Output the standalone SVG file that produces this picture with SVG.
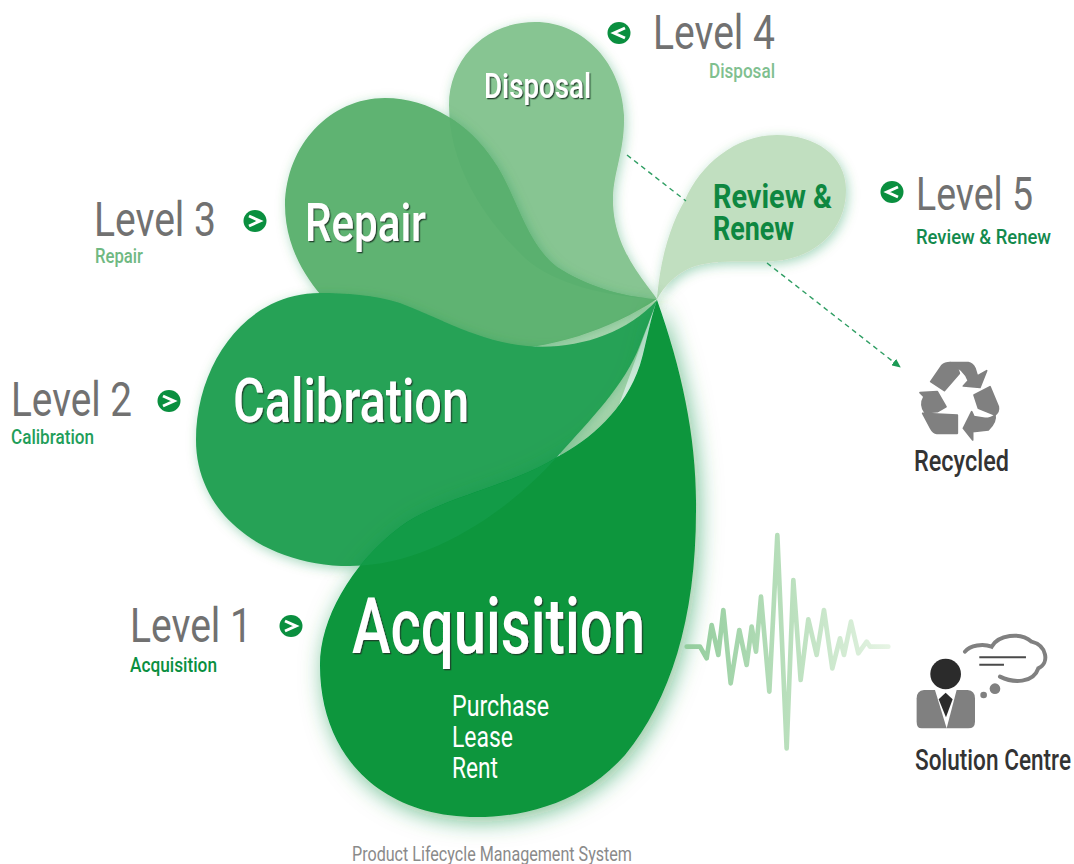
<svg xmlns="http://www.w3.org/2000/svg" width="1074" height="864" viewBox="0 0 1074 864">
<style>
text{font-family:"Roboto","Liberation Sans",sans-serif}
.lv{font-size:48px;fill:#717171}
.sub{font-size:21px;font-weight:500}
.pt{fill:#fff;font-weight:500;filter:url(#ts)}
.li{fill:#fff;font-size:30px}
.blt{fill:#0a8f3f}
.chev{fill:none;stroke:#fff;stroke-width:3;stroke-linejoin:miter}
.dash{fill:none;stroke:#2f9e63;stroke-width:1.4;stroke-dasharray:5 4}
.gr{fill:#808080}
.dk{fill:#2b2b2b}
.lab{fill:#333;font-size:30px;font-weight:500}
</style>
<defs>
<filter id="glow" x="-20%" y="-20%" width="140%" height="140%"><feDropShadow dx="2" dy="3" stdDeviation="6" flood-color="#0a8f3f" flood-opacity=".35"/></filter>
<filter id="glow2" x="-20%" y="-20%" width="140%" height="140%"><feDropShadow dx="3" dy="5" stdDeviation="11" flood-color="#0a8f3f" flood-opacity=".55"/></filter>
<filter id="ts" x="-5%" y="-10%" width="110%" height="120%"><feDropShadow dx="1.3" dy="1.3" stdDeviation=".3" flood-color="#1c3a28" flood-opacity=".9"/></filter>
<marker id="ah" markerWidth="9" markerHeight="8" refX="8" refY="4" orient="auto" markerUnits="userSpaceOnUse"><path d="M0,0L9,4L0,8Z" fill="#1d9a55"/></marker>
<linearGradient id="wave2" gradientUnits="userSpaceOnUse" x1="50" y1="0" x2="655" y2="0"><stop offset="0" stop-color="#93cd9d"/><stop offset=".5" stop-color="#b9dfbc"/><stop offset="1" stop-color="#e6f4e4"/></linearGradient>
<path id="pDisposal" d="M657,299C640,275 612,245 613,197C614,170 625,150 624,115C622,65 585,22 535,22C485,22 449,60 449,105C449,170 490,225 525,258C555,285 610,297 657,299Z"/>
<path id="pRepair" d="M657,299C620,297 585,285 557,267C525,243 515,190 493,160C470,125 430,98 385,98C330,98 286,145 285,205C285,250 310,290 345,318C385,345 440,350 490,350C550,350 610,330 657,299Z"/>
<path id="pCal" d="M657,300C625,335 575,350 527,346C480,342 440,318 400,303C375,295 345,293 320,293C245,293 196,365 196,440C196,515 265,566 350,566C430,566 510,510 557,457C590,420 625,385 640,345C645,332 650,320 657,300Z"/>
<path id="pAcq" d="M657,300C682,370 697,440 696,510C696,620 670,700 625,755C585,800 530,817 477,817C380,817 320,755 320,665C320,620 350,565 400,527C440,497 510,487 557,457C590,440 625,410 640,365C645,350 650,320 657,300Z"/>
<clipPath id="cAcq"><use href="#pAcq"/></clipPath>
<clipPath id="cRep"><use href="#pRepair"/></clipPath>
</defs>
<rect width="1074" height="864" fill="#fff"/>

<g id="node-review">
<path d="M657,299C660,260 670,225 685,200C700,165 735,135 777,135C815,135 846,155 846,190C846,230 815,258 775,261C745,263 715,258 690,268C675,275 665,285 657,299Z" fill="#c1dfc0" filter="url(#glow)"/>
<text x="713" y="208" font-size="34" font-weight="700" fill="#0e8740" textLength="119" lengthAdjust="spacingAndGlyphs">Review &amp;</text>
<text x="713" y="240" font-size="34" font-weight="700" fill="#0e8740" textLength="81" lengthAdjust="spacingAndGlyphs">Renew</text>
</g>
<g id="node-disposal">
<use href="#pDisposal" fill="#87c592" filter="url(#glow)"/>
</g>
<path id="gap" d="M657,300L535,345L560,400L560,457L610,430Z" fill="#c0dfbd"/>
<g id="node-repair">
<use href="#pRepair" fill="#5eb372" filter="url(#glow)"/>
<use href="#pDisposal" fill="#5ab06f" clip-path="url(#cRep)"/>
<text class="pt" x="305" y="241" font-size="54" textLength="121" lengthAdjust="spacingAndGlyphs">Repair</text>
</g>
<g id="node-calibration">
<use href="#pCal" fill="#27a257" filter="url(#glow)"/>
<text class="pt" x="233" y="422" font-size="62" textLength="236" lengthAdjust="spacingAndGlyphs">Calibration</text>
</g>
<g id="node-acquisition">
<use href="#pAcq" fill="#07963c" filter="url(#glow2)"/>
<use href="#pCal" fill="#129b47" clip-path="url(#cAcq)"/>
<text class="pt" x="352" y="653" font-size="78" textLength="293" lengthAdjust="spacingAndGlyphs">Acquisition</text>
<text class="li" x="452" y="716" textLength="97" lengthAdjust="spacingAndGlyphs">Purchase</text>
<text class="li" x="452" y="747" textLength="61" lengthAdjust="spacingAndGlyphs">Lease</text>
<text class="li" x="452" y="778" textLength="46" lengthAdjust="spacingAndGlyphs">Rent</text>
</g>
<g id="node-disposal-label">
<text class="pt" x="484" y="98" font-size="35" textLength="107" lengthAdjust="spacingAndGlyphs">Disposal</text>
</g>

<g id="connectors">
<path class="dash" d="M627,155L686,201"/>
<path class="dash" d="M767,263L900,367" marker-end="url(#ah)"/>
</g>

<g id="level-1">
<text class="lv" x="130" y="642" textLength="122" lengthAdjust="spacingAndGlyphs">Level 1</text>
<text class="sub" x="130" y="672" fill="#0a8f3f" textLength="87" lengthAdjust="spacingAndGlyphs">Acquisition</text>
<ellipse class="blt" cx="291" cy="626" rx="11.5" ry="11"/><path class="chev" d="M285,621L296,626L285,631"/>
</g>
<g id="level-2">
<text class="lv" x="11" y="416" textLength="121" lengthAdjust="spacingAndGlyphs">Level 2</text>
<text class="sub" x="11" y="444" fill="#1f9e5a" textLength="83" lengthAdjust="spacingAndGlyphs">Calibration</text>
<ellipse class="blt" cx="169" cy="401" rx="11.5" ry="11"/><path class="chev" d="M163,396L174,401L163,406"/>
</g>
<g id="level-3">
<text class="lv" x="94" y="236" textLength="122" lengthAdjust="spacingAndGlyphs">Level 3</text>
<text class="sub" x="95" y="263" fill="#70b982" textLength="48" lengthAdjust="spacingAndGlyphs">Repair</text>
<ellipse class="blt" cx="255" cy="221" rx="11.5" ry="11"/><path class="chev" d="M249,216L260,221L249,226"/>
</g>
<g id="level-4">
<text class="lv" x="653" y="49" textLength="122" lengthAdjust="spacingAndGlyphs">Level 4</text>
<text class="sub" x="709" y="78" fill="#7fc08f" textLength="66" lengthAdjust="spacingAndGlyphs">Disposal</text>
<ellipse class="blt" cx="619" cy="33" rx="11.5" ry="11"/><path class="chev" d="M625,28L614,33L625,38"/>
</g>
<g id="level-5">
<text class="lv" x="916" y="210" textLength="117" lengthAdjust="spacingAndGlyphs" style="font-size:46px">Level 5</text>
<text class="sub" x="916" y="244" fill="#138a4d" textLength="135" lengthAdjust="spacingAndGlyphs">Review &amp; Renew</text>
<ellipse class="blt" cx="892" cy="192" rx="11.5" ry="11"/><path class="chev" d="M898,187L887,192L898,197"/>
</g>

<g id="wave-signal">
<polyline transform="translate(670 520) scale(.3333)" fill="none" stroke="url(#wave2)" stroke-width="14" stroke-linecap="round" stroke-linejoin="round" points="50,380 90,380 110,415 125,315 145,405 160,270 182,490 208,330 230,435 245,320 258,395 273,230 298,515 322,45 350,685 370,180 392,480 415,298 440,405 462,270 487,445 510,355 522,405 543,305 565,400 590,365 600,380 655,380"/>
</g>

<g id="node-recycled">
<g transform="translate(900 350) scale(.3333)" class="gr" stroke="#808080" stroke-width="5" stroke-linejoin="round">
<path d="M92,95L125,47Q135,38 150,38Q170,42 178,70L133,122Z"/>
<path d="M150,38L205,38Q218,40 225,55L232,78L260,62L240,112L190,108L205,92Q195,60 150,38Z"/>
<path d="M60,128L112,125L138,170L112,185L75,188Q58,165 72,140Z"/>
<path d="M68,190L172,195L172,250L110,250Q100,250 92,235Z"/>
<path d="M270,110L295,170Q298,185 285,195L235,175L222,135Z"/>
<path d="M285,195Q290,215 265,240L218,245L218,270L190,235L215,185L222,200L255,205Q275,205 285,195Z"/>
</g>
<text class="lab" x="914" y="471" textLength="95" lengthAdjust="spacingAndGlyphs">Recycled</text>
</g>

<g id="node-solution-centre">
<g transform="translate(670 520) scale(.3333)">
<path class="gr" d="M740,535Q740,512 762,510L795,510L830,625L755,625Q740,625 740,605Z"/>
<path class="gr" d="M915,535Q915,512 893,510L860,510L830,625L895,625Q915,625 915,605Z"/>
<circle class="dk" cx="827" cy="462" r="46"/>
<path class="dk" d="M827,518L848,538L828,592L806,538Z"/>
<path fill="none" stroke="#808080" stroke-width="12" stroke-linecap="round" d="M885,395C900,375 940,370 965,380C985,345 1050,335 1085,365C1130,375 1140,430 1105,445C1090,490 1030,490 990,470"/>
<path fill="none" stroke="#4a4a4a" stroke-width="6" d="M928,412H1068M928,434H1002"/>
<circle class="gr" cx="975" cy="506" r="16"/>
<circle class="gr" cx="941" cy="525" r="10"/>
</g>
<text class="lab" x="915" y="770" textLength="156" lengthAdjust="spacingAndGlyphs">Solution Centre</text>
</g>

<text id="caption" x="352" y="861" font-size="20" fill="#8a8a8a" textLength="280" lengthAdjust="spacingAndGlyphs">Product Lifecycle Management System</text>
</svg>
